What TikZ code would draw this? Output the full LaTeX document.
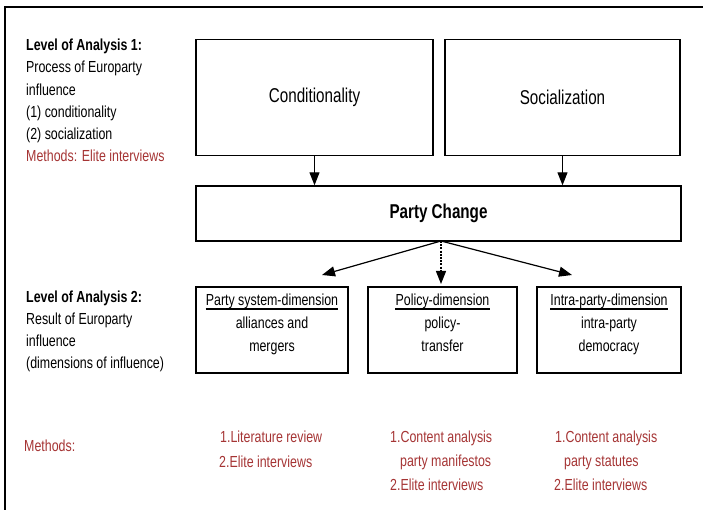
\documentclass[tikz,border=0pt]{standalone}
\usepackage{fontspec}
\usepackage{graphicx}
\setmainfont{Liberation Sans}
\usetikzlibrary{arrows.meta}
\definecolor{meth}{RGB}{165,52,52}
\newcommand\nar[1]{\scalebox{0.775}[1]{#1}}
\newcommand\narb[1]{\scalebox{0.76}[1]{#1}}
\tikzset{
  box/.style={draw, line width=1.4pt, minimum width=#1, inner sep=0pt},
  lbl/.style={anchor=base west, inner sep=0pt, font=\fontsize{16}{18}\selectfont},
  big/.style={font=\fontsize{20}{22}\selectfont},
  mtxt/.style={lbl, text=meth},
  arr/.style={line width=1.2pt, -{Triangle[length=13pt,width=10pt]}},
  inb/.style={anchor=base, inner sep=0pt, font=\fontsize{16}{18}\selectfont}
}
\begin{document}
\begin{tikzpicture}[x=1pt,y=-1pt]
\useasboundingbox (0,0) rectangle (703,510);
\draw[line width=1.6pt] (5,510) -- (5,7) -- (703,7);
% left texts level 1
\node[lbl, font=\fontsize{16}{18}\selectfont\bfseries] (a1) at (26,51) {\nar{Level of Analysis 1:}};
\node[lbl] (a2) at (26,73) {\nar{Process of Europarty}};
\node[lbl] (a3) at (26,96) {\nar{influence}};
\node[lbl] (a4) at (26,118) {\nar{(1) conditionality}};
\node[lbl] (a5) at (26,140) {\nar{(2) socialization}};
\node[mtxt] (a6) at (26,162) {\nar{Methods: Elite interviews}};
% top boxes
\node[box=237pt, minimum height=116pt, big] (cond) at (314.5,97.5) {\narb{Conditionality}};
\node[box=235pt, minimum height=116pt, big] (soc) at (562.5,97.5) {\narb{Socialization}};
\node[box=485pt, minimum height=55pt, font=\fontsize{20}{22}\selectfont\bfseries] (pc) at (438.5,213.5) {\narb{Party Change}};
\draw[arr] (cond.south) -- (cond.south |- pc.north);
\draw[arr] (soc.south) -- (soc.south |- pc.north);
% level 2 texts
\node[lbl, font=\fontsize{16}{18}\selectfont\bfseries] (b1) at (26,302) {\nar{Level of Analysis 2:}};
\node[lbl] (b2) at (26,324) {\nar{Result of Europarty}};
\node[lbl] (b3) at (26,346) {\nar{influence}};
\node[lbl] (b4) at (26,368) {\nar{(dimensions of influence)}};
% bottom boxes
\node[box=152pt, minimum height=86pt] (d1) at (272,330) {};
\node[box=149pt, minimum height=86pt] (d2) at (442.5,330) {};
\node[box=144pt, minimum height=86pt] (d3) at (609,330) {};
\node[inb] (h1) at (272,305) {\nar{Party system-dimension}};
\node[inb] (h2) at (442.5,305) {\nar{Policy-dimension}};
\node[inb] (h3) at (609,305) {\nar{Intra-party-dimension}};
\foreach \h in {h1,h2,h3}{\draw[line width=1.8pt] ([yshift=-4pt]\h.base west) -- ([yshift=-4pt]\h.base east);}
\node[inb] (e1) at (272,328) {\nar{alliances and}};
\node[inb] (f1) at (272,351) {\nar{mergers}};
\node[inb] (e2) at (442.5,328) {\nar{policy-}};
\node[inb] (f2) at (442.5,351) {\nar{transfer}};
\node[inb] (e3) at (609,328) {\nar{intra-party}};
\node[inb] (f3) at (609,351) {\nar{democracy}};
% arrows from party change
\coordinate (o) at (441,241);
\coordinate (t1) at (322,275);
\coordinate (t2) at (441,284);
\coordinate (t3) at (572,275);
\draw[arr] (o) -- (t1);
\draw[arr, dash pattern=on 2pt off 1.2pt] (o) -- (t2);
\draw[arr] (o) -- (t3);
% methods
\node[mtxt] (m0) at (24,451) {\nar{Methods:}};
\node[mtxt] (m11) at (220,442) {\nar{1.Literature review}};
\node[mtxt] (m12) at (219,467) {\nar{2.Elite interviews}};
\node[mtxt] (m21) at (390,442) {\nar{1.Content analysis}};
\node[mtxt] (m22) at (400,466) {\nar{party manifestos}};
\node[mtxt] (m23) at (390,490) {\nar{2.Elite interviews}};
\node[mtxt] (m31) at (555,442) {\nar{1.Content analysis}};
\node[mtxt] (m32) at (564,466) {\nar{party statutes}};
\node[mtxt] (m33) at (554,490) {\nar{2.Elite interviews}};
\end{tikzpicture}
\end{document}
